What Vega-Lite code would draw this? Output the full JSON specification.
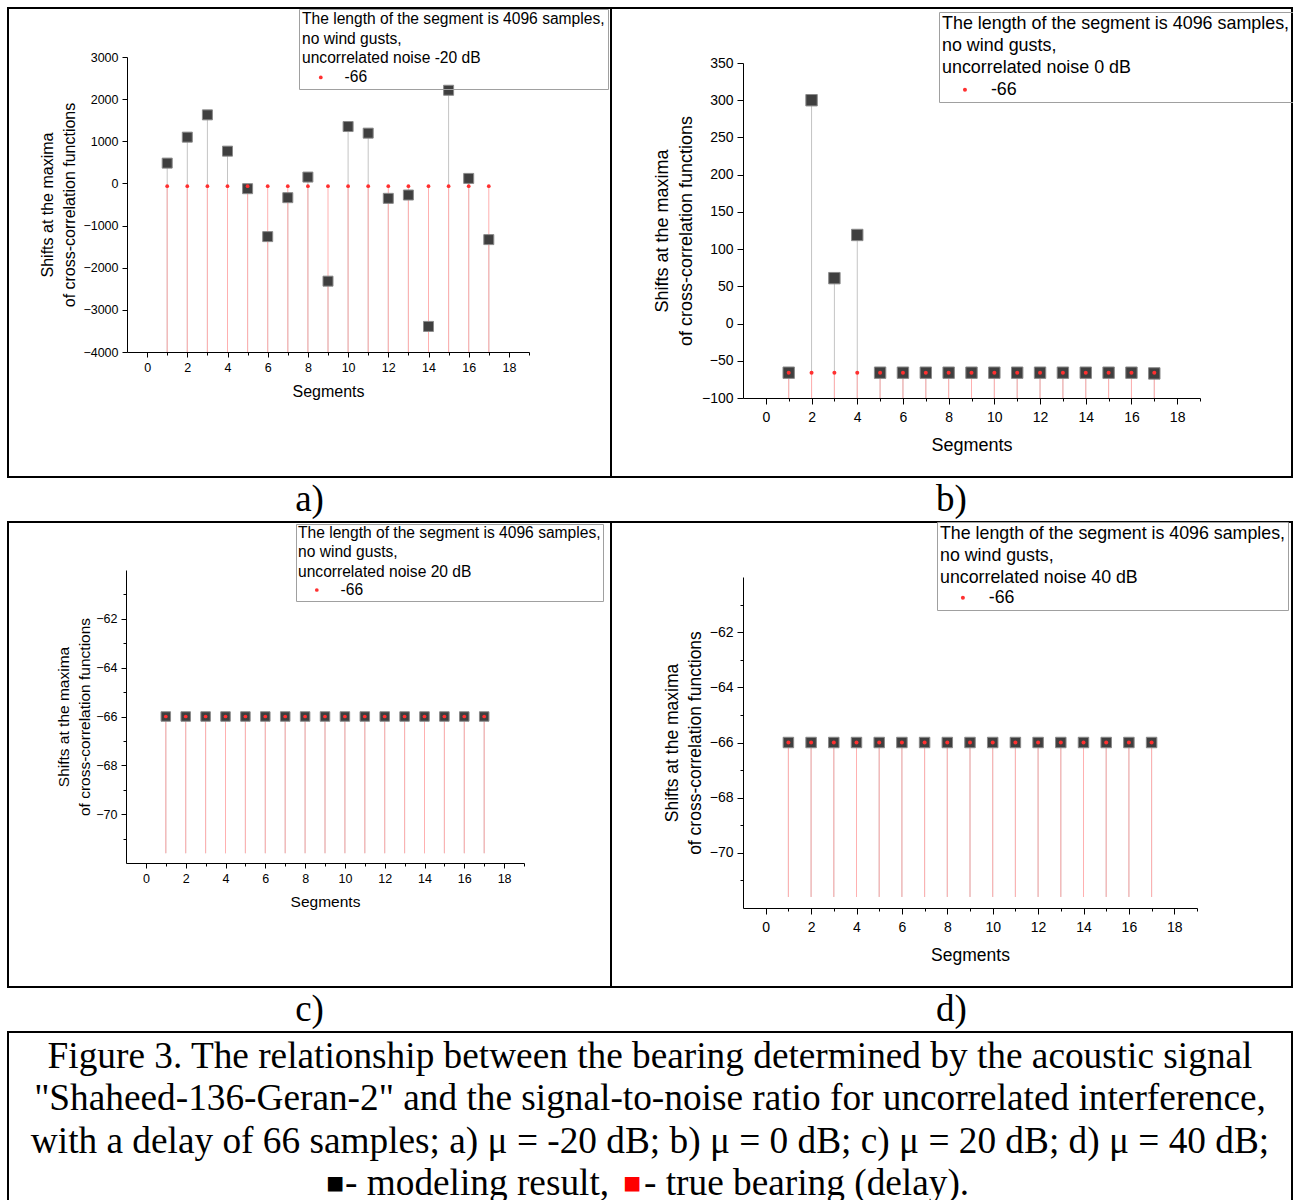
{
  "$schema": "https://vega.github.io/schema/vega-lite/v6.json",
  "padding": {"left": 7, "top": 7, "right": 0, "bottom": 0},
  "spacing": -2,
  "config": {
    "view": {"stroke": "black", "strokeWidth": 2},
    "font": "Liberation Sans",
    "axis": {"domainColor": "black", "tickColor": "black", "labelColor": "black", "titleColor": "black", "titleFontWeight": "normal", "grid": false, "labelOverlap": false, "labelBound": false, "labelFlush": false, "labelFont": "Liberation Sans", "titleFont": "Liberation Sans"},
    "legend": {"titleFontWeight": "normal", "titleColor": "black", "labelColor": "black", "titleLimit": 500, "strokeColor": "#a0a0a0", "symbolType": "circle", "symbolStrokeWidth": 0, "titleFont": "Liberation Sans", "labelFont": "Liberation Sans"}
  },
  "datasets": {
    "a": [
      {"seg": 1, "val": 482, "truth": -66, "series": "-66"},
      {"seg": 2, "val": 1098, "truth": -66, "series": "-66"},
      {"seg": 3, "val": 1627, "truth": -66, "series": "-66"},
      {"seg": 4, "val": 766, "truth": -66, "series": "-66"},
      {"seg": 5, "val": -125, "truth": -66, "series": "-66"},
      {"seg": 6, "val": -1262, "truth": -66, "series": "-66"},
      {"seg": 7, "val": -338, "truth": -66, "series": "-66"},
      {"seg": 8, "val": 151, "truth": -66, "series": "-66"},
      {"seg": 9, "val": -2319, "truth": -66, "series": "-66"},
      {"seg": 10, "val": 1350, "truth": -66, "series": "-66"},
      {"seg": 11, "val": 1193, "truth": -66, "series": "-66"},
      {"seg": 12, "val": -354, "truth": -66, "series": "-66"},
      {"seg": 13, "val": -275, "truth": -66, "series": "-66"},
      {"seg": 14, "val": -3393, "truth": -66, "series": "-66"},
      {"seg": 15, "val": 2211, "truth": -66, "series": "-66"},
      {"seg": 16, "val": 119, "truth": -66, "series": "-66"},
      {"seg": 17, "val": -1333, "truth": -66, "series": "-66"}
    ],
    "b": [
      {"seg": 1, "val": -66, "truth": -66, "series": "-66"},
      {"seg": 2, "val": 300, "truth": -66, "series": "-66"},
      {"seg": 3, "val": 61, "truth": -66, "series": "-66"},
      {"seg": 4, "val": 119, "truth": -66, "series": "-66"},
      {"seg": 5, "val": -66, "truth": -66, "series": "-66"},
      {"seg": 6, "val": -66, "truth": -66, "series": "-66"},
      {"seg": 7, "val": -66, "truth": -66, "series": "-66"},
      {"seg": 8, "val": -66, "truth": -66, "series": "-66"},
      {"seg": 9, "val": -66, "truth": -66, "series": "-66"},
      {"seg": 10, "val": -66, "truth": -66, "series": "-66"},
      {"seg": 11, "val": -66, "truth": -66, "series": "-66"},
      {"seg": 12, "val": -66, "truth": -66, "series": "-66"},
      {"seg": 13, "val": -66, "truth": -66, "series": "-66"},
      {"seg": 14, "val": -66, "truth": -66, "series": "-66"},
      {"seg": 15, "val": -66, "truth": -66, "series": "-66"},
      {"seg": 16, "val": -66, "truth": -66, "series": "-66"},
      {"seg": 17, "val": -67, "truth": -66, "series": "-66"}
    ],
    "c": [
      {"seg": 1, "val": -66, "truth": -66, "series": "-66"},
      {"seg": 2, "val": -66, "truth": -66, "series": "-66"},
      {"seg": 3, "val": -66, "truth": -66, "series": "-66"},
      {"seg": 4, "val": -66, "truth": -66, "series": "-66"},
      {"seg": 5, "val": -66, "truth": -66, "series": "-66"},
      {"seg": 6, "val": -66, "truth": -66, "series": "-66"},
      {"seg": 7, "val": -66, "truth": -66, "series": "-66"},
      {"seg": 8, "val": -66, "truth": -66, "series": "-66"},
      {"seg": 9, "val": -66, "truth": -66, "series": "-66"},
      {"seg": 10, "val": -66, "truth": -66, "series": "-66"},
      {"seg": 11, "val": -66, "truth": -66, "series": "-66"},
      {"seg": 12, "val": -66, "truth": -66, "series": "-66"},
      {"seg": 13, "val": -66, "truth": -66, "series": "-66"},
      {"seg": 14, "val": -66, "truth": -66, "series": "-66"},
      {"seg": 15, "val": -66, "truth": -66, "series": "-66"},
      {"seg": 16, "val": -66, "truth": -66, "series": "-66"},
      {"seg": 17, "val": -66, "truth": -66, "series": "-66"}
    ],
    "d": [
      {"seg": 1, "val": -66, "truth": -66, "series": "-66"},
      {"seg": 2, "val": -66, "truth": -66, "series": "-66"},
      {"seg": 3, "val": -66, "truth": -66, "series": "-66"},
      {"seg": 4, "val": -66, "truth": -66, "series": "-66"},
      {"seg": 5, "val": -66, "truth": -66, "series": "-66"},
      {"seg": 6, "val": -66, "truth": -66, "series": "-66"},
      {"seg": 7, "val": -66, "truth": -66, "series": "-66"},
      {"seg": 8, "val": -66, "truth": -66, "series": "-66"},
      {"seg": 9, "val": -66, "truth": -66, "series": "-66"},
      {"seg": 10, "val": -66, "truth": -66, "series": "-66"},
      {"seg": 11, "val": -66, "truth": -66, "series": "-66"},
      {"seg": 12, "val": -66, "truth": -66, "series": "-66"},
      {"seg": 13, "val": -66, "truth": -66, "series": "-66"},
      {"seg": 14, "val": -66, "truth": -66, "series": "-66"},
      {"seg": 15, "val": -66, "truth": -66, "series": "-66"},
      {"seg": 16, "val": -66, "truth": -66, "series": "-66"},
      {"seg": 17, "val": -66, "truth": -66, "series": "-66"}
    ],
    "caption": [
      {"line": 1, "part": "main", "t": "Figure 3. The relationship between the bearing determined by the acoustic signal"},
      {"line": 2, "part": "main", "t": "\"Shaheed-136-Geran-2\" and the signal-to-noise ratio for uncorrelated interference,"},
      {"line": 3, "part": "main", "t": "with a delay of 66 samples; a) μ = -20 dB; b) μ = 0 dB; c) μ = 20 dB; d) μ = 40 dB;"},
      {"line": 4, "part": "sqblack", "t": "■"},
      {"line": 4, "part": "left", "t": "- modeling result,"},
      {"line": 4, "part": "sqred", "t": "■"},
      {"line": 4, "part": "right", "t": "- true bearing (delay)."}
    ]
  },
  "vconcat": [
    {
      "columns": 2, "spacing": 0, "bounds": "flush", "align": "each",
      "resolve": {"scale": {"color": "independent"}, "legend": {"color": "independent"}},
      "concat": [
        {
          "width": 603, "height": 469,
          "data": {"name": "a"},
          "encoding": {
            "x": {"field": "seg", "type": "quantitative", "scale": {"domain": [-1, 19], "range": [119, 521]},
              "axis": {"orient": "bottom", "offset": -125, "values": [0,1,2,3,4,5,6,7,8,9,10,11,12,13,14,15,16,17,18,19], "labelExpr": "datum.value % 2 === 0 ? datum.label : ''", "tickSize": {"condition": {"test": "datum.value % 2 === 0", "value": 5}, "value": 3}, "labelFontSize": 12.5, "labelPadding": 4, "title": "Segments", "titleFontSize": 16, "titlePadding": 10}}
          },
          "layer": [
            {"mark": {"type": "rule", "color": "#c4c4c4", "strokeWidth": 1},
             "encoding": {"y": {"field": "val", "type": "quantitative", "scale": {"domain": [-4000, 3000], "range": [344, 49]},
               "axis": {"orient": "left", "offset": -119, "values": [-4000,-3500,-3000,-2500,-2000,-1500,-1000,-500,0,500,1000,1500,2000,2500,3000], "format": "d", "labelExpr": "datum.value % 1000 === 0 ? replace(datum.label, '-', '−') : ''", "tickSize": {"condition": {"test": "datum.value % 1000 === 0", "value": 5}, "value": 3}, "labelFontSize": 12.5, "labelPadding": 4, "title": ["Shifts at the maxima", "of cross-correlation functions"], "titleFontSize": 16, "titleLineHeight": 22, "titlePadding": 5}},
               "y2": {"datum": -4000}}},
            {"mark": {"type": "rule", "color": "#ffb0b0", "strokeWidth": 1},
             "encoding": {"y": {"field": "truth", "type": "quantitative"}, "y2": {"datum": -4000}}},
            {"mark": {"type": "point", "shape": "square", "filled": true, "size": 100, "fill": "#3f3f3f", "stroke": "#8a8a8a", "strokeWidth": 1, "opacity": 1},
             "encoding": {"y": {"field": "val", "type": "quantitative"}}},
            {"mark": {"type": "point", "shape": "circle", "filled": true, "size": 14, "opacity": 1},
             "encoding": {"y": {"field": "truth", "type": "quantitative"},
               "color": {"field": "series", "type": "nominal", "scale": {"domain": ["-66"], "range": ["#ff3030"]},
                 "legend": {"orient": "none", "legendX": 291, "legendY": 1, "title": ["The length of the segment is 4096 samples,", "no wind gusts,", "uncorrelated noise -20 dB"], "titleFontSize": 15.6, "titleLineHeight": 19.5, "labelFontSize": 15.6, "padding": 3, "titlePadding": 3, "symbolSize": 14, "symbolOffset": 11, "labelOffset": 16}}}}
          ]
        },
        {
          "width": 681, "height": 469,
          "data": {"name": "b"},
          "encoding": {
            "x": {"field": "seg", "type": "quantitative", "scale": {"domain": [-1, 19], "range": [132, 589]},
              "axis": {"orient": "bottom", "offset": -79, "values": [0,1,2,3,4,5,6,7,8,9,10,11,12,13,14,15,16,17,18,19], "labelExpr": "datum.value % 2 === 0 ? datum.label : ''", "tickSize": {"condition": {"test": "datum.value % 2 === 0", "value": 6}, "value": 3}, "labelFontSize": 14, "labelPadding": 6, "title": "Segments", "titleFontSize": 18, "titlePadding": 12}}
          },
          "layer": [
            {"mark": {"type": "rule", "color": "#c4c4c4", "strokeWidth": 1},
             "encoding": {"y": {"field": "val", "type": "quantitative", "scale": {"domain": [-100, 350], "range": [390, 55]},
               "axis": {"orient": "left", "offset": -132, "values": [-100,-75,-50,-25,0,25,50,75,100,125,150,175,200,225,250,275,300,325,350], "format": "d", "labelExpr": "datum.value % 50 === 0 ? replace(datum.label, '-', '−') : ''", "tickSize": {"condition": {"test": "datum.value % 50 === 0", "value": 6}, "value": 3}, "labelFontSize": 14, "labelPadding": 4, "title": ["Shifts at the maxima", "of cross-correlation functions"], "titleFontSize": 18, "titleLineHeight": 24, "titlePadding": 6}},
               "y2": {"datum": -100}}},
            {"mark": {"type": "rule", "color": "#ffb0b0", "strokeWidth": 1},
             "encoding": {"y": {"field": "truth", "type": "quantitative"}, "y2": {"datum": -100}}},
            {"mark": {"type": "point", "shape": "square", "filled": true, "size": 130, "fill": "#3f3f3f", "stroke": "#8a8a8a", "strokeWidth": 1, "opacity": 1},
             "encoding": {"y": {"field": "val", "type": "quantitative"}}},
            {"mark": {"type": "point", "shape": "circle", "filled": true, "size": 16, "opacity": 1},
             "encoding": {"y": {"field": "truth", "type": "quantitative"},
               "color": {"field": "series", "type": "nominal", "scale": {"domain": ["-66"], "range": ["#ff3030"]},
                 "legend": {"orient": "none", "legendX": 328, "legendY": 4, "title": ["The length of the segment is 4096 samples,", "no wind gusts,", "uncorrelated noise 0 dB"], "titleFontSize": 17.9, "titleLineHeight": 22, "labelFontSize": 17.9, "padding": 3, "titlePadding": 4, "symbolSize": 16, "symbolOffset": 14, "labelOffset": 17}}}}
          ]
        },
        {"width": 603, "height": 45, "data": {"values": [{"t": "a)"}]}, "mark": {"type": "text", "font": "Liberation Serif", "fontSize": 37, "baseline": "middle", "color": "black"}, "encoding": {"text": {"field": "t"}}},
        {"width": 681, "height": 45, "data": {"values": [{"t": "b)"}]}, "mark": {"type": "text", "font": "Liberation Serif", "fontSize": 37, "baseline": "middle", "color": "black"}, "encoding": {"text": {"field": "t"}}},
        {
          "width": 603, "height": 465,
          "data": {"name": "c"},
          "encoding": {
            "x": {"field": "seg", "type": "quantitative", "scale": {"domain": [-1, 19], "range": [118, 516]},
              "axis": {"orient": "bottom", "offset": -124, "values": [0,1,2,3,4,5,6,7,8,9,10,11,12,13,14,15,16,17,18,19], "labelExpr": "datum.value % 2 === 0 ? datum.label : ''", "tickSize": {"condition": {"test": "datum.value % 2 === 0", "value": 5}, "value": 3}, "labelFontSize": 12.5, "labelPadding": 4, "title": "Segments", "titleFontSize": 15.5, "titlePadding": 10}}
          },
          "layer": [
            {"mark": {"type": "rule", "color": "#c4c4c4", "strokeWidth": 1},
             "encoding": {"y": {"field": "val", "type": "quantitative", "scale": {"domain": [-71.6, -60.4], "range": [341, 48]},
               "axis": {"orient": "left", "offset": -118, "values": [-71,-70,-69,-68,-67,-66,-65,-64,-63,-62,-61], "format": "d", "labelExpr": "datum.value % 2 === 0 ? replace(datum.label, '-', '−') : ''", "tickSize": {"condition": {"test": "datum.value % 2 === 0", "value": 5}, "value": 3}, "labelFontSize": 12.5, "labelPadding": 4, "title": ["Shifts at the maxima", "of cross-correlation functions"], "titleFontSize": 15.5, "titleLineHeight": 21, "titlePadding": 3}},
               "y2": {"datum": -71.6}}},
            {"mark": {"type": "rule", "color": "#ffb0b0", "strokeWidth": 1},
             "encoding": {"y": {"field": "truth", "type": "quantitative"}, "y2": {"datum": -71.6}}},
            {"mark": {"type": "point", "shape": "square", "filled": true, "size": 90, "fill": "#3f3f3f", "stroke": "#8a8a8a", "strokeWidth": 1, "opacity": 1},
             "encoding": {"y": {"field": "val", "type": "quantitative"}}},
            {"mark": {"type": "point", "shape": "circle", "filled": true, "size": 14, "opacity": 1},
             "encoding": {"y": {"field": "truth", "type": "quantitative"},
               "color": {"field": "series", "type": "nominal", "scale": {"domain": ["-66"], "range": ["#ff3030"]},
                 "legend": {"orient": "none", "legendX": 288, "legendY": 2, "title": ["The length of the segment is 4096 samples,", "no wind gusts,", "uncorrelated noise 20 dB"], "titleFontSize": 15.6, "titleLineHeight": 19.3, "labelFontSize": 15.6, "padding": 2, "titlePadding": 2, "symbolSize": 14, "symbolOffset": 11, "labelOffset": 16}}}}
          ]
        },
        {
          "width": 681, "height": 465,
          "data": {"name": "d"},
          "encoding": {
            "x": {"field": "seg", "type": "quantitative", "scale": {"domain": [-1, 19], "range": [132, 586]},
              "axis": {"orient": "bottom", "offset": -79, "values": [0,1,2,3,4,5,6,7,8,9,10,11,12,13,14,15,16,17,18,19], "labelExpr": "datum.value % 2 === 0 ? datum.label : ''", "tickSize": {"condition": {"test": "datum.value % 2 === 0", "value": 6}, "value": 3}, "labelFontSize": 14, "labelPadding": 6, "title": "Segments", "titleFontSize": 17.5, "titlePadding": 12}}
          },
          "layer": [
            {"mark": {"type": "rule", "color": "#c4c4c4", "strokeWidth": 1},
             "encoding": {"y": {"field": "val", "type": "quantitative", "scale": {"domain": [-71.6, -60.4], "range": [386, 55]},
               "axis": {"orient": "left", "offset": -132, "values": [-71,-70,-69,-68,-67,-66,-65,-64,-63,-62,-61], "format": "d", "labelExpr": "datum.value % 2 === 0 ? replace(datum.label, '-', '−') : ''", "tickSize": {"condition": {"test": "datum.value % 2 === 0", "value": 6}, "value": 3}, "labelFontSize": 14, "labelPadding": 4, "title": ["Shifts at the maxima", "of cross-correlation functions"], "titleFontSize": 17.5, "titleLineHeight": 23, "titlePadding": 5}},
               "y2": {"datum": -71.6}}},
            {"mark": {"type": "rule", "color": "#ffb0b0", "strokeWidth": 1},
             "encoding": {"y": {"field": "truth", "type": "quantitative"}, "y2": {"datum": -71.6}}},
            {"mark": {"type": "point", "shape": "square", "filled": true, "size": 110, "fill": "#3f3f3f", "stroke": "#8a8a8a", "strokeWidth": 1, "opacity": 1},
             "encoding": {"y": {"field": "val", "type": "quantitative"}}},
            {"mark": {"type": "point", "shape": "circle", "filled": true, "size": 16, "opacity": 1},
             "encoding": {"y": {"field": "truth", "type": "quantitative"},
               "color": {"field": "series", "type": "nominal", "scale": {"domain": ["-66"], "range": ["#ff3030"]},
                 "legend": {"orient": "none", "legendX": 326, "legendY": 0, "title": ["The length of the segment is 4096 samples,", "no wind gusts,", "uncorrelated noise 40 dB"], "titleFontSize": 17.8, "titleLineHeight": 22, "labelFontSize": 17.8, "padding": 3, "titlePadding": 2, "symbolSize": 16, "symbolOffset": 14, "labelOffset": 17}}}}
          ]
        },
        {"width": 603, "height": 45, "data": {"values": [{"t": "c)"}]}, "mark": {"type": "text", "font": "Liberation Serif", "fontSize": 37, "baseline": "middle", "color": "black"}, "encoding": {"text": {"field": "t"}}},
        {"width": 681, "height": 45, "data": {"values": [{"t": "d)"}]}, "mark": {"type": "text", "font": "Liberation Serif", "fontSize": 37, "baseline": "middle", "color": "black"}, "encoding": {"text": {"field": "t"}}}
      ]
    },
    {
      "width": 1284, "height": 170,
      "data": {"name": "caption"},
      "encoding": {"y": {"field": "line", "type": "quantitative", "scale": {"domain": [0.409, 4.425], "reverse": true}, "axis": null}},
      "layer": [
        {"transform": [{"filter": "datum.part === 'main'"}], "mark": {"type": "text", "font": "Liberation Serif", "fontSize": 37.3, "baseline": "middle", "align": "center", "color": "black"}, "encoding": {"text": {"field": "t"}}},
        {"transform": [{"filter": "datum.part === 'sqblack'"}], "mark": {"type": "text", "font": "Liberation Serif", "fontSize": 30, "baseline": "middle", "align": "left", "dx": -324, "color": "black"}, "encoding": {"text": {"field": "t"}}},
        {"transform": [{"filter": "datum.part === 'left'"}], "mark": {"type": "text", "font": "Liberation Serif", "fontSize": 37.3, "baseline": "middle", "align": "left", "dx": -305, "color": "black"}, "encoding": {"text": {"field": "t"}}},
        {"transform": [{"filter": "datum.part === 'sqred'"}], "mark": {"type": "text", "font": "Liberation Serif", "fontSize": 30, "baseline": "middle", "align": "left", "dx": -27, "color": "#ff0000"}, "encoding": {"text": {"field": "t"}}},
        {"transform": [{"filter": "datum.part === 'right'"}], "mark": {"type": "text", "font": "Liberation Serif", "fontSize": 37.3, "baseline": "middle", "align": "left", "dx": -6, "color": "black"}, "encoding": {"text": {"field": "t"}}}
      ]
    }
  ]
}
